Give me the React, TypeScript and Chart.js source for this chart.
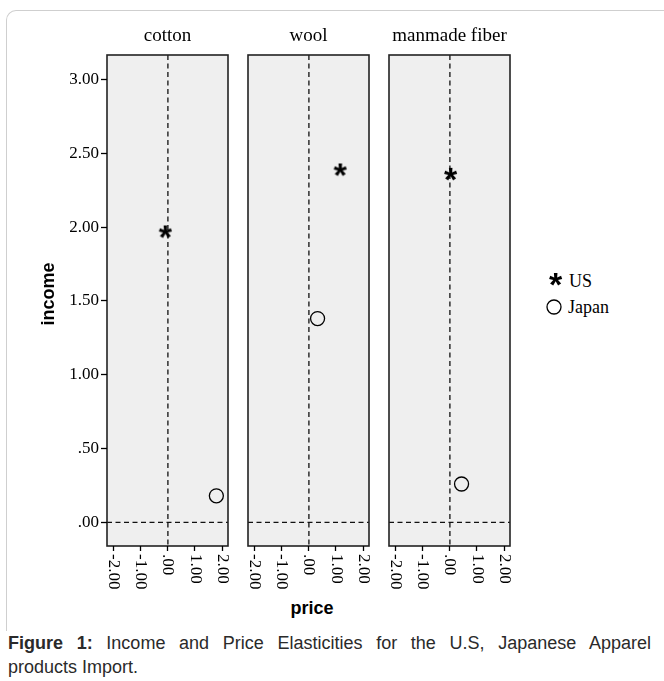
import React, { useEffect, useRef, useMemo } from "react";
import { Chart, registerables } from "chart.js";
Chart.register(...registerables);

const PANELS = ["cotton", "wool", "manmade fiber"];
const SERIES = ["US", "Japan"];
const US_PRICE = [-0.08, 1.17, 0.04];
const US_INCOME = [1.97, 2.39, 2.36];
const JAPAN_PRICE = [1.79, 0.32, 0.43];
const JAPAN_INCOME = [0.18, 1.38, 0.26];
const Y_TICKS = [0, 0.5, 1, 1.5, 2, 2.5, 3];
const X_TICKS = [-2, -1, 0, 1, 2];
const X_TITLE = "price";
const Y_TITLE = "income";
const CAPTION_BOLD = "Figure 1:";
const CAPTION_LINE1 = " Income and Price Elasticities for the U.S, Japanese Apparel";
const CAPTION_LINE2 = "products Import.";

const SERIF = '"Liberation Serif", "Times New Roman", serif';
const SANS = '"Liberation Sans", Arial, sans-serif';

const fmt = (v: number) => v.toFixed(2).replace(/^(-?)0\./, "$1.");

function makeStar(size = 18) {
  const c = document.createElement("canvas");
  c.width = size;
  c.height = size;
  const ctx = c.getContext("2d")!;
  ctx.fillStyle = "#000";
  ctx.font = "bold 34px " + SANS;
  ctx.textAlign = "left";
  ctx.textBaseline = "alphabetic";
  const m = ctx.measureText("*");
  const w = m.actualBoundingBoxLeft + m.actualBoundingBoxRight;
  const h = m.actualBoundingBoxAscent + m.actualBoundingBoxDescent;
  ctx.fillText("*", (size - w) / 2 + m.actualBoundingBoxLeft, (size - h) / 2 + m.actualBoundingBoxAscent);
  return c;
}

const panelPlugin = {
  id: "panelDeco",
  beforeDraw(chart: any) {
    const { ctx, chartArea: a } = chart;
    const xs = chart.scales.x;
    const ys = chart.scales.y;
    ctx.save();
    ctx.fillStyle = "#efefef";
    ctx.fillRect(a.left, a.top, a.right - a.left, a.bottom - a.top);
    const x0 = xs.getPixelForValue(0);
    const y0 = ys.getPixelForValue(0);
    ctx.setLineDash([5, 3.5]);
    ctx.strokeStyle = "#111";
    ctx.lineWidth = 1.3;
    ctx.beginPath();
    ctx.moveTo(x0, a.top);
    ctx.lineTo(x0, a.bottom);
    ctx.moveTo(a.left, y0);
    ctx.lineTo(a.right, y0);
    ctx.stroke();
    ctx.setLineDash([]);
    ctx.lineWidth = 1.6;
    ctx.strokeStyle = "#222";
    ctx.strokeRect(a.left, a.top, a.right - a.left, a.bottom - a.top);
    ctx.font = "17px " + SERIF;
    ctx.fillStyle = "#000";
    ctx.textAlign = "left";
    ctx.textBaseline = "middle";
    X_TICKS.forEach((v) => {
      const px = xs.getPixelForValue(v);
      ctx.save();
      ctx.translate(px, a.bottom + 8);
      ctx.rotate(Math.PI / 2);
      ctx.fillText(fmt(v), 0, 0);
      ctx.restore();
    });
    ctx.restore();
  },
};

function Panel({ index, showY, padLeft, padRight, star }: any) {
  const ref = useRef<HTMLCanvasElement>(null);
  useEffect(() => {
    const chart = new Chart(ref.current!, {
      type: "scatter",
      data: {
        datasets: [
          {
            label: SERIES[0],
            data: [{ x: US_PRICE[index], y: US_INCOME[index] }],
            pointStyle: star,
            pointRadius: 9,
            borderColor: "#000",
            backgroundColor: "#000",
          },
          {
            label: SERIES[1],
            data: [{ x: JAPAN_PRICE[index], y: JAPAN_INCOME[index] }],
            pointStyle: "circle",
            pointRadius: 7,
            borderColor: "#000",
            borderWidth: 1.3,
            backgroundColor: "rgba(0,0,0,0)",
          },
        ],
      },
      options: {
        animation: false,
        responsive: false,
        maintainAspectRatio: false,
        events: [],
        layout: { padding: { top: 15, left: padLeft, right: padRight, bottom: 0 }, autoPadding: false },
        plugins: { legend: { display: false }, tooltip: { enabled: false } },
        scales: {
          x: {
            type: "linear",
            min: -2.25,
            max: 2.22,
            afterBuildTicks: (s: any) => {
              s.ticks = X_TICKS.map((v) => ({ value: v }));
            },
            afterFit: (s: any) => {
              s.height = 50;
            },
            ticks: { display: false },
            grid: { drawOnChartArea: false, drawTicks: true, tickLength: 5, tickColor: "#000", tickWidth: 1.3 },
            border: { display: false },
          },
          y: {
            type: "linear",
            display: showY,
            min: -0.16,
            max: 3.165,
            afterBuildTicks: (s: any) => {
              s.ticks = Y_TICKS.map((v) => ({ value: v }));
            },
            afterFit: (s: any) => {
              s.width = showY ? 107 : 0;
            },
            ticks: {
              callback: (v: any) => fmt(Number(v)),
              font: { family: SERIF, size: 17 },
              color: "#000",
              padding: 2,
            },
            grid: { drawOnChartArea: false, drawTicks: true, tickLength: 6, tickColor: "#000", tickWidth: 1.3 },
            border: { display: false },
          },
        },
      } as any,
      plugins: [panelPlugin],
    });
    return () => chart.destroy();
  }, [index, showY, padLeft, padRight, star]);
  return <canvas ref={ref} width={showY ? 240 : 140} height={556} style={{ display: "block" }} />;
}

const abs = (s: any) => ({ position: "absolute", ...s } as React.CSSProperties);

export default function App() {
  const star = useMemo(() => makeStar(18), []);
  const starUrl = useMemo(() => star.toDataURL(), [star]);
  const panelCenters = [167.5, 308.5, 449.5];
  return (
    <div style={abs({ left: 0, top: 0, width: 664, height: 681, overflow: "hidden", background: "#fff" })}>
      <div
        style={abs({
          left: 6,
          top: 10,
          width: 720,
          height: 620,
          borderLeft: "1px solid #cfcfcf",
          borderTop: "1px solid #cfcfcf",
          borderTopLeftRadius: 10,
        })}
      />
      <div style={abs({ left: 0, top: 40 })}>
        <Panel index={0} showY={true} padLeft={0} padRight={12} star={star} />
      </div>
      <div style={abs({ left: 240, top: 40 })}>
        <Panel index={1} showY={false} padLeft={8} padRight={11} star={star} />
      </div>
      <div style={abs({ left: 380, top: 40 })}>
        <Panel index={2} showY={false} padLeft={9} padRight={10} star={star} />
      </div>
      {PANELS.map((p, i) => (
        <div
          key={p}
          style={abs({
            left: panelCenters[i] - 80,
            width: 160,
            top: 24,
            lineHeight: "22px",
            textAlign: "center",
            fontFamily: SERIF,
            fontSize: 19,
            color: "#000",
          })}
        >
          {p}
        </div>
      ))}
      <div
        style={abs({
          left: 48 - 60,
          top: 294 - 11,
          width: 120,
          lineHeight: "22px",
          textAlign: "center",
          fontFamily: SANS,
          fontWeight: "bold",
          fontSize: 18,
          transform: "rotate(-90deg)",
        })}
      >
        {Y_TITLE}
      </div>
      <div
        style={abs({
          left: 312 - 60,
          top: 608 - 11,
          width: 120,
          lineHeight: "22px",
          textAlign: "center",
          fontFamily: SANS,
          fontWeight: "bold",
          fontSize: 18,
        })}
      >
        {X_TITLE}
      </div>
      <img src={starUrl} width={18} height={18} style={abs({ left: 555.5 - 9, top: 278.5 - 9 })} />
      <div style={abs({ left: 569, top: 287 - 17, lineHeight: "22px", fontFamily: SERIF, fontSize: 18 })}>{SERIES[0]}</div>
      <svg width={18} height={18} style={abs({ left: 554.3 - 9, top: 307.3 - 9 })}>
        <circle cx={9} cy={9} r={7} fill="none" stroke="#000" strokeWidth={1.3} />
      </svg>
      <div style={abs({ left: 568, top: 313 - 17, lineHeight: "22px", fontFamily: SERIF, fontSize: 18 })}>{SERIES[1]}</div>
      <div
        style={abs({
          left: 8,
          width: 643,
          top: 643 - 12,
          lineHeight: "24px",
          fontFamily: SANS,
          fontSize: 18,
          color: "#2a2a2a",
          textAlign: "justify",
          textAlignLast: "justify",
          whiteSpace: "nowrap",
        } as any)}
      >
        <b>{CAPTION_BOLD}</b>
        {CAPTION_LINE1}
      </div>
      <div
        style={abs({
          left: 8,
          top: 667 - 12,
          lineHeight: "24px",
          fontFamily: SANS,
          fontSize: 18,
          color: "#2a2a2a",
        })}
      >
        {CAPTION_LINE2}
      </div>
    </div>
  );
}
